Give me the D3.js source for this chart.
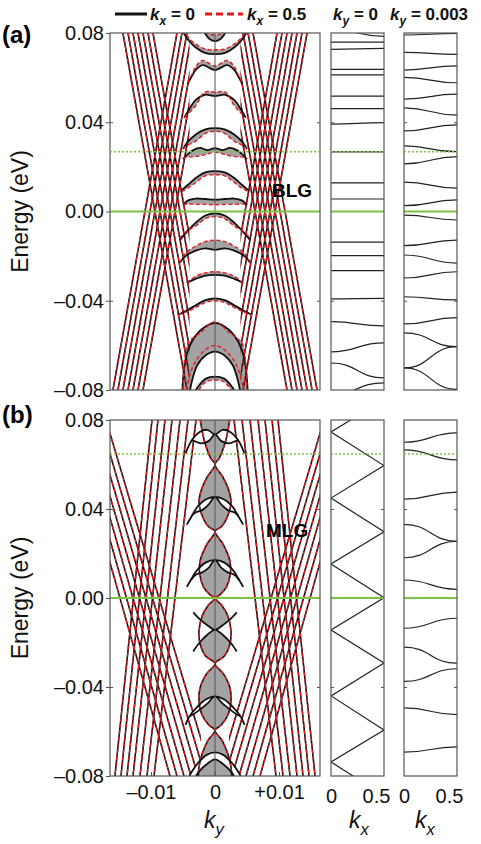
<!DOCTYPE html>
<html>
<head>
<meta charset="utf-8">
<script src="https://cdn.jsdelivr.net/npm/d3@7"></script>
<style>
body { margin: 0; background: #fff; }
text { font-family: Arial, "Liberation Sans", sans-serif; }
</style>
</head>
<body>
<svg id="fig" width="481" height="844"></svg>
<script>
// ---- axes ----
const yTicks = [80, 40, 0, -40, -80];                 // meV
const yTickLabels = ["0.08", "0.04", "0.00", "\u20130.04", "\u20130.08"];
const kyTicks = [-10, 0, 10];                          // ky in units of 1e-3
const kyTickLabels = ["\u20130.01", "0", "+0.01"];
const kxTicks = [0, 0.5];
const kxTickLabels = ["0", "0.5"];

// ---- straight bands, left half: [ky at E=+80, ky at E=-80] (mirrored to the right) ----
const linesA = [[-14.38, -4.38], [-13.59, -3.59], [-12.81, -2.81], [-12.03, -2.03], [-11.25, -1.25], [-10.47, -0.47], [-9.69, 0.31],
  [-5.94, -15.94], [-5.16, -15.16], [-4.38, -14.38], [-3.59, -13.59], [-2.81, -12.81], [-2.03, -12.03], [-1.25, -11.25]];
const linesB = [[-22.66, -7.03], [-21.72, -5.94], [-20.78, -4.84], [-19.84, -3.75], [-18.91, -2.66], [-17.97, -1.56], [-17.03, -0.47],
  [-9.84, -15.63], [-8.91, -14.69], [-7.81, -13.75], [-6.72, -12.81], [-5.47, -11.72], [-4.22, -10.63], [-2.97, -9.53]];
const cutA = 4.0, cutB = 2.2;   // straight bands end where they meet the central bands

// ---- central bands (a), half profiles [ky, E] for ky >= 0 ----
const bandsA_black = [
  [[0, 76.4], [0.8, 77.2], [1.6, 80]],
  [[0, 70.5], [1.5, 71], [3, 73.5], [4.2, 77], [5, 80.5]],
  [[0, 63.4], [1.9, 65.6], [3, 63.5], [3.6, 60.7], [4.3, 57]],
  [[0, 51.7], [1.6, 52.3], [3, 50], [4.1, 45.5], [4.8, 42]],
  [[0, 37.4], [1.5, 36.8], [3, 34.5], [4.4, 30.7], [5, 28]],
  [[0, 28.4], [1.2, 27.5], [2.3, 28.5], [3.4, 27.5], [4.4, 25.3], [5, 23.5]],
  [[0, 18.1], [1.5, 17.5], [3, 15], [4.2, 12], [5.2, 9.6]],
  [[0, 5.3], [1.5, 5.6], [3, 5.8], [4.2, 5], [5, 3]],
  [[0, -0.8], [1.5, -1.8], [3, -5], [4.5, -9.5], [5.5, -12.8]],
  [[0, -17.2], [1.5, -16.5], [3, -17.5], [4.7, -20.2], [5.5, -23]],
  [[0, -28.4], [1.5, -28.7], [3, -30.2], [4.4, -32]],
  [[0, -38.9], [1.5, -39.7], [3, -42], [4.5, -44.5], [5.8, -46.4]],
  [[0, -50], [1.5, -51.5], [3, -55.5], [4.2, -62], [4.8, -70], [5.1, -80]],
  [[0, -62.8], [1.5, -64.5], [2.8, -69], [3.6, -76], [3.9, -80]],
  [[0, -74], [1.5, -75], [2.5, -78], [3, -80]]
];
const bandsA_red = [
  [[0, 79.2], [0.8, 79.4], [1.6, 80.5]],
  [[0, 72.5], [1.5, 72.8], [3, 75], [4.2, 78.2], [5, 81.5]],
  [[0, 65.2], [1.9, 67.7], [3, 65], [3.6, 61.5], [4.3, 57.5]],
  [[0, 53.5], [1.6, 53.5], [3, 47.5], [4.1, 44], [4.8, 42.5]],
  [[0, 36], [1.5, 35], [3, 31.5], [4.4, 29.5], [5, 28]],
  [[0, 26.6], [1.2, 25.8], [2.3, 25], [3.4, 24.5], [4.4, 24.4], [5, 23.5]],
  [[0, 16.5], [1.5, 16], [3, 13], [4.2, 10.5], [5.2, 9]],
  [[0, 3], [1.5, 3.2], [3, 3.2], [4.2, 3.4], [5, 3]],
  [[0, -2.3], [1.5, -3.2], [3, -6.5], [4.5, -9], [5.5, -12]],
  [[0, -12.8], [1.5, -13.5], [3, -15.5], [4.7, -19], [5.5, -23]],
  [[0, -27], [1.5, -27.5], [3, -29], [4.4, -32]],
  [[0, -40], [1.5, -40.8], [3, -43], [4.5, -45], [5.8, -46.4]],
  [[0, -49.4], [2.2, -54.2], [4.2, -58.9], [4.7, -65], [5.0, -80]],
  [[0, -60], [1.5, -62], [3, -67], [4.0, -74], [4.4, -80]],
  [[0, -75.5], [1.5, -76.5], [2.5, -80]]
];
// gray region between outer arch (band 12) and inner arch (band 13) in (a)
const grayA = [[12, 13]];

// ---- central bands (b) ----
const spineB = [[2.3, 80], [1.7, 71], [0.7, 63], [0, 60], [1.3, 54], [2.2, 48], [2.5, 43], [2.0, 37], [1.0, 32], [0, 30],
  [1.3, 24], [2.3, 17], [2.4, 11], [1.8, 5], [0.8, 1.5], [0, 0], [1.0, -3], [2.0, -8], [2.5, -15], [2.3, -21], [1.5, -26],
  [0, -29.5], [1.3, -34], [2.3, -40], [2.5, -46], [2.1, -52], [1.0, -57], [0, -59.5], [1.1, -64], [2.0, -70], [2.5, -76], [2.6, -80]];
const archesB_upper = [
  [[0, 73.5], [1.2, 75.6], [2.4, 74.6], [3.6, 71], [4.6, 65]],
  [[0, 45.4], [1.3, 44.5], [2.6, 41.5], [3.6, 37], [4.4, 33]],
  [[0, 17], [1.4, 16], [2.8, 12.5], [3.8, 8], [4.4, 5]],
  [[0, -14.3], [1.2, -12.2], [2.4, -9.5], [3.4, -6.5]],
  [[0, -44.2], [1.4, -45.5], [2.8, -49], [4, -53.2], [4.6, -57]],
  [[0, -69.4], [1.3, -70.5], [2.6, -74], [3.6, -78], [4, -80]]
];
const archesB_lower = [
  [[0, 73.5], [1.0, 70.5], [2.2, 69.5], [3.2, 70.5], [3.6, 71]],
  [[0, 45.4], [1.0, 42], [2.0, 39.5], [3.0, 38.5], [3.6, 37]],
  [[0, 17], [1.0, 13.5], [2.0, 11.5], [3.0, 10.5], [3.8, 8]],
  [[0, -14.3], [1.2, -16.5], [2.4, -20], [3.4, -24]],
  [[0, -44.2], [1.2, -47.5], [2.5, -50.5], [3.5, -52.5], [4, -53.2]],
  [[0, -72.5], [1.2, -74.5], [2.5, -78], [3, -80]]
];

// ---- kx panels: [E at kx=0, E at kx=0.5] ----
const kxA_ky0 = [[81.5, 78.5], [75.9, 75.9], [72.7, 73.1], [63.7, 63.7], [61.2, 61.2], [51.7, 51.7], [46.1, 46.1], [39.2, 39.8],
  [26.7, 26.7], [12.8, 12.8], [5.6, 5.6], [0, 0], [-13.7, -13.7], [-19.8, -19.8], [-26.5, -26.5], [-39.2, -38.9],
  [-49.4, -51.3], [-62.9, -58.9], [-67.9, -74.6], [-82, -76.8]];
const kxA_ky3 = [[79.1, 79.8], [71.3, 70.4], [63.4, 65.3], [60.1, 57.7], [50.4, 52.6], [46.4, 43.2], [36.1, 38.8], [29.4, 26.8],
  [21.3, 24.6], [13.2, 10.5], [2.6, 5.2], [-1.6, -3.8], [-15.3, -12.8], [-19.5, -23.1], [-29.8, -27], [-38.2, -39.6],
  [-50.4, -47.6], [-54.4, -60.6], [-70.1, -60.6], [-70.1, -79.7]];
const zigKxB = [0.5, 0, 0.5, 0, 0.5, 0, 0.5, 0, 0.5, 0, 0.5, 0, 0.5];
const zigEB = [89.2, 74.6, 59.5, 44.9, 29.8, 15.3, 0.1, -14.4, -29.2, -44, -59.3, -73.7, -88.8];
const kxB_ky3 = [[70, 74.2], [66.6, 62.1], [44.4, 47.6], [33.1, 25.5], [18.1, 25.5], [8.1, 3.9], [-13.6, -9.1],
  [-22.1, -29.3], [-37.5, -31.8], [-49.4, -52.4], [-69.3, -66.9]];

const greenDotA = 26.8, greenDotB = 64.7;

// ---- drawing ----
const svg = d3.select("#fig");
const RED = "#e3191c", GREEN = "#7dc242", GRAY = "#a3a3a3", BOX = "#555";

const xMain = d3.scaleLinear().domain([-16.4, 16.4]).range([110, 320]);
const xKx1 = d3.scaleLinear().domain([0, 0.5]).range([331, 384]);
const xKx2 = d3.scaleLinear().domain([0, 0.5]).range([404, 457]);
const yA = d3.scaleLinear().domain([-80, 80]).range([390, 33]);
const yB = d3.scaleLinear().domain([-80, 80]).range([776, 420]);

function mirror(h) {
  const left = h.slice().reverse().filter(p => p[0] !== 0).map(p => [-p[0], p[1]]);
  return left.concat(h);
}

function clipFor(id, x, y) {
  svg.append("clipPath").attr("id", id).append("rect")
    .attr("x", x.range()[0]).attr("y", y.range()[1])
    .attr("width", x.range()[1] - x.range()[0]).attr("height", y.range()[0] - y.range()[1]);
  return svg.append("g").attr("clip-path", `url(#${id})`);
}

function drawMain(id, y, lines, cut, blacks, reds) {
  const g = clipFor(id, xMain, y);
  const line = d3.line().x(d => xMain(d[0])).y(d => y(d[1])).curve(d3.curveCatmullRom.alpha(0.5));
  const fillPath = (a, b) => line(a) + line(b.slice().reverse()).replace(/^M/, "L") + "Z";

  const g0 = g.append("g");   // fills
  blacks.forEach((b, i) => {
    g0.append("path").attr("d", fillPath(mirror(b), mirror(reds[i]))).attr("fill", GRAY);
  });

  // straight bands outside the central region, black under red dashes
  const cp = svg.append("clipPath").attr("id", id + "s");
  cp.append("rect").attr("x", xMain(-16.4)).attr("width", xMain(-cut) - xMain(-16.4))
    .attr("y", y(80)).attr("height", y(-80) - y(80));
  cp.append("rect").attr("x", xMain(cut)).attr("width", xMain(16.4) - xMain(cut))
    .attr("y", y(80)).attr("height", y(-80) - y(80));
  const gs = g.append("g").attr("clip-path", `url(#${id}s)`);
  const all = [];
  lines.forEach(l => { all.push(l); all.push([-l[0], -l[1]]); });
  ["k", "r"].forEach(c => {
    gs.selectAll(null).data(all).enter().append("line")
      .attr("x1", d => xMain(d[0])).attr("y1", y(80))
      .attr("x2", d => xMain(d[1])).attr("y2", y(-80))
      .attr("stroke", c === "k" ? "#111" : RED)
      .attr("stroke-width", c === "k" ? 1.6 : 1.3)
      .attr("stroke-dasharray", c === "k" ? null : "4,2.5");
  });
  g.selectAll(null).data(blacks).enter().append("path")
    .attr("d", d => line(mirror(d))).attr("fill", "none").attr("stroke", "#111").attr("stroke-width", 1.8);
  g.selectAll(null).data(reds).enter().append("path")
    .attr("d", d => line(mirror(d))).attr("fill", "none").attr("stroke", RED).attr("stroke-width", 1.4)
    .attr("stroke-dasharray", "4,2.5");
  return { g, g0, line, fillPath };
}

function drawKx(id, x, y, pairs) {
  const g = clipFor(id, x, y);
  const bump = d3.line().x(d => x(d[0])).y(d => y(d[1])).curve(d3.curveBumpX);
  g.selectAll(null).data(pairs).enter().append("path")
    .attr("d", d => bump([[0, d[0]], [0.5, d[1]]]))
    .attr("fill", "none").attr("stroke", "#222").attr("stroke-width", 1.2);
  return g;
}

function frame(x, y, withCenter) {
  const g = svg.append("g");
  if (withCenter) {
    g.append("line").attr("x1", x(0)).attr("x2", x(0)).attr("y1", y(80)).attr("y2", y(-80))
      .attr("stroke", BOX).attr("stroke-width", 1);
  }
  g.append("line").attr("x1", x.range()[0]).attr("x2", x.range()[1]).attr("y1", y(0)).attr("y2", y(0))
    .attr("stroke", GREEN).attr("stroke-width", 2);
  g.append("rect").attr("x", x.range()[0]).attr("y", y.range()[1])
    .attr("width", x.range()[1] - x.range()[0]).attr("height", y.range()[0] - y.range()[1])
    .attr("fill", "none").attr("stroke", BOX).attr("stroke-width", 1.2);
  // inward ticks
  const tl = g.append("g").attr("transform", `translate(${x.range()[0]},0)`)
    .call(d3.axisRight(y).tickValues([40, -40]).tickSize(3).tickFormat(""));
  const tr = g.append("g").attr("transform", `translate(${x.range()[1]},0)`)
    .call(d3.axisLeft(y).tickValues([40, -40]).tickSize(3).tickFormat(""));
  [tl, tr].forEach(a => { a.select(".domain").remove(); a.selectAll("line").attr("stroke", BOX); });
  return g;
}

function greenDotted(x, y, e) {
  svg.append("line").attr("x1", x.range()[0]).attr("x2", x.range()[1]).attr("y1", y(e)).attr("y2", y(e))
    .attr("stroke", GREEN).attr("stroke-width", 1.6).attr("stroke-dasharray", "2,2");
}

// panel (a)
const mA = drawMain("clipA", yA, linesA, cutA, bandsA_black, bandsA_red);
grayA.forEach(p => {
  mA.g0.append("path").attr("d", mA.fillPath(mirror(bandsA_black[p[0]]), mirror(bandsA_black[p[1]]))).attr("fill", GRAY);
});
drawKx("clipA1", xKx1, yA, kxA_ky0);
drawKx("clipA2", xKx2, yA, kxA_ky3);

// panel (b)
const mB = drawMain("clipB", yB, linesB, cutB, [], []);
const spineL = spineB.map(p => [-p[0], p[1]]);
mB.g0.append("path").attr("d", mB.fillPath(spineB, spineL)).attr("fill", GRAY);
archesB_upper.forEach((u, i) => {
  mB.g.append("path").attr("d", mB.fillPath(mirror(u), mirror(archesB_lower[i]))).attr("fill", "#fff");
});
[spineB, spineL].forEach(s => {
  mB.g.append("path").attr("d", mB.line(s)).attr("fill", "none").attr("stroke", "#111").attr("stroke-width", 1.6);
  mB.g.append("path").attr("d", mB.line(s)).attr("fill", "none").attr("stroke", RED).attr("stroke-width", 1.4)
    .attr("stroke-dasharray", "4,2.5");
});
archesB_upper.concat(archesB_lower).forEach(a => {
  mB.g.append("path").attr("d", mB.line(mirror(a))).attr("fill", "none").attr("stroke", "#111").attr("stroke-width", 1.8);
});
const gB1 = clipFor("clipB1", xKx1, yB);
gB1.append("path")
  .attr("d", d3.line().x((d, i) => xKx1(zigKxB[i])).y(d => yB(d))(zigEB))
  .attr("fill", "none").attr("stroke", "#222").attr("stroke-width", 1.2);
drawKx("clipB2", xKx2, yB, kxB_ky3);

// frames, green lines
[[xMain, yA, true], [xKx1, yA, false], [xKx2, yA, false], [xMain, yB, true], [xKx1, yB, false], [xKx2, yB, false]]
  .forEach(f => frame(f[0], f[1], f[2]));
[xMain, xKx1, xKx2].forEach(x => { greenDotted(x, yA, greenDotA); greenDotted(x, yB, greenDotB); });

// y axes
[yA, yB].forEach(y => {
  const ax = svg.append("g").attr("transform", `translate(${xMain.range()[0]},0)`)
    .call(d3.axisLeft(y).tickValues(yTicks).tickFormat((d, i) => yTickLabels[i]).tickSize(4).tickPadding(2));
  ax.select(".domain").remove();
  ax.selectAll("line").attr("stroke", BOX);
});
// x axes
const axK = svg.append("g").attr("transform", `translate(0,${yB.range()[0]})`)
  .call(d3.axisBottom(xMain).tickValues(kyTicks).tickFormat((d, i) => kyTickLabels[i]).tickSize(-4).tickPadding(9));
[xKx1, xKx2].forEach(x => {
  const a = svg.append("g").attr("transform", `translate(0,${yB.range()[0]})`)
    .call(d3.axisBottom(x).tickValues(kxTicks).tickFormat((d, i) => kxTickLabels[i]).tickSize(0).tickPadding(13));
  a.selectAll("text").filter(d => d === 0.5).attr("dx", -8);
  a.select(".domain").remove();
});
axK.select(".domain").remove();
axK.selectAll("line").attr("stroke", BOX);
svg.selectAll(".tick text").attr("font-size", 20).attr("fill", "#111").attr("font-family", "Arial, 'Liberation Sans', sans-serif");

// axis titles
[yA, yB].forEach(y => {
  svg.append("text").attr("transform", `translate(28,${y(0)}) rotate(-90)`)
    .attr("text-anchor", "middle").attr("font-size", 23).attr("fill", "#111").text("Energy (eV)");
});
function kLabel(x, yy, sub, size) {
  const t = svg.append("text").attr("x", x).attr("y", yy).attr("text-anchor", "middle")
    .attr("font-size", size).attr("font-style", "italic").attr("fill", "#111");
  t.append("tspan").text("k");
  t.append("tspan").attr("font-size", size * 0.72).attr("dy", size * 0.3).text(sub);
}
kLabel(214, 828, "y", 23);
kLabel(359, 828, "x", 23);
kLabel(425, 828, "x", 23);

// panel letters
svg.append("text").attr("x", 2).attr("y", 43).attr("font-size", 24).attr("font-weight", "bold").text("(a)");
svg.append("text").attr("x", 2).attr("y", 423).attr("font-size", 24).attr("font-weight", "bold").text("(b)");
svg.append("text").attr("x", 272).attr("y", 197).attr("font-size", 19).attr("font-weight", "bold").text("BLG");
svg.append("text").attr("x", 266).attr("y", 537).attr("font-size", 19).attr("font-weight", "bold").text("MLG");

// header legend
const hdr = [[150, "x", " = 0"], [247, "x", " = 0.5"], [333, "y", " = 0"], [390, "y", " = 0.003"]];
hdr.forEach(h => {
  const t = svg.append("text").attr("x", h[0]).attr("y", 20).attr("font-size", 17).attr("font-weight", "bold").attr("fill", "#111");
  t.append("tspan").attr("font-style", "italic").text("k");
  t.append("tspan").attr("font-style", "italic").attr("font-size", 12).attr("dy", 5).text(h[1]);
  t.append("tspan").attr("dy", -5).text(h[2]);
});
svg.append("line").attr("x1", 115).attr("x2", 147).attr("y1", 14).attr("y2", 14).attr("stroke", "#111").attr("stroke-width", 3);
svg.append("line").attr("x1", 205).attr("x2", 243).attr("y1", 14).attr("y2", 14).attr("stroke", RED).attr("stroke-width", 3)
  .attr("stroke-dasharray", "7,4");
</script>
</body>
</html>
